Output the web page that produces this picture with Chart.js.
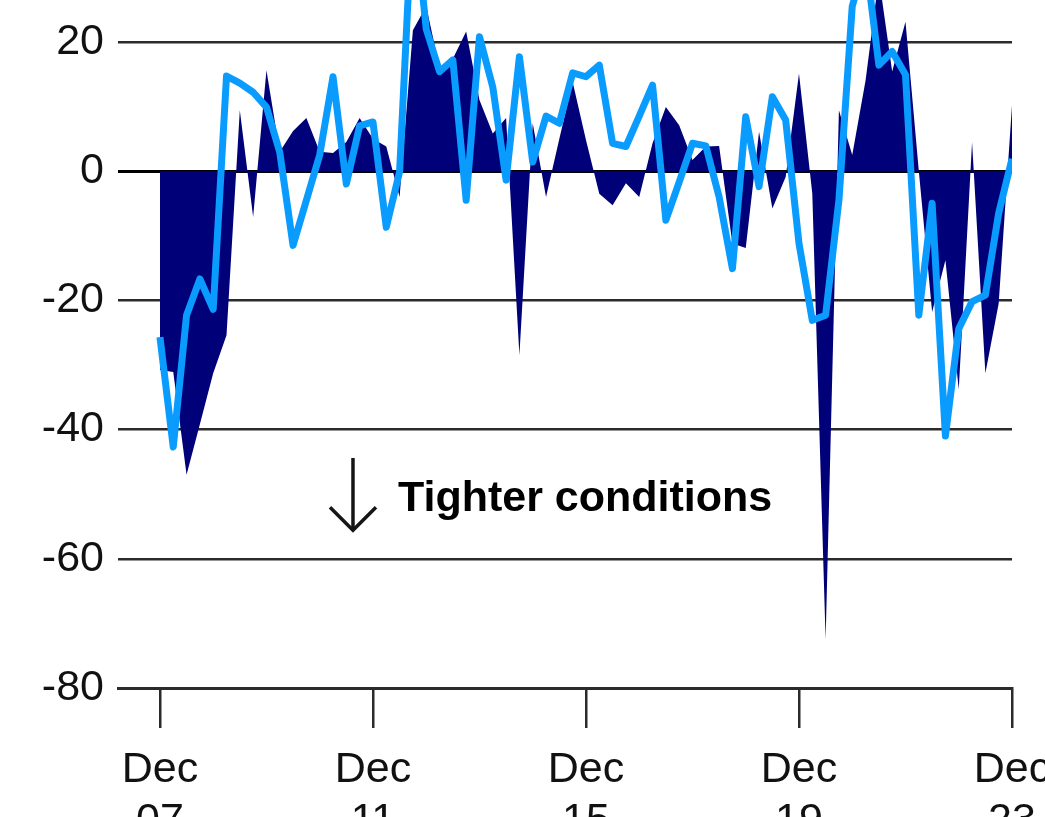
<!DOCTYPE html>
<html>
<head>
<meta charset="utf-8">
<title>Lending conditions</title>
<script src="https://cdn.jsdelivr.net/npm/chart.js@4.4.1/dist/chart.umd.min.js"></script>
<style>
  html, body { margin: 0; padding: 0; background: #ffffff; overflow: hidden; width: 1045px; height: 817px; }
  #wrap { position: absolute; left: 0; top: -212px; width: 1072px; height: 1030px; }
  canvas { display: block; }
</style>
</head>
<body>
<div id="wrap"><canvas id="chart" width="1072" height="1030"></canvas></div>
<script>
// Quarterly observations, Dec 2007 to Dec 2023
const quarters = [];
for (let yr = 2007; yr <= 2023; yr++) {
  for (const m of ['Mar', 'Jun', 'Sep', 'Dec']) {
    const label = m + ' ' + String(yr).slice(2);
    if (yr === 2007 && m !== 'Dec') continue;
    quarters.push(label);
  }
}

// Net balance (filled area)
const areaValues = [
  -30.8, -31.1, -47.0, -39.2, -31.3, -25.4, 9.4, -7.1, 15.6, 3.0,
  6.2, 8.2, 3.0, 2.8, 4.5, 8.2, 5.0, 3.8, -4.0, 21.8,
  25.5, 16.0, 17.4, 21.6, 11.0, 5.8, 8.2, -28.5, 7.4, -4.0,
  5.0, 13.8, 4.8, -3.5, -5.3, -1.9, -4.0, 4.3, 9.9, 7.1,
  1.7, 3.8, 3.9, -11.2, -11.9, 6.1, -5.8, -0.9, 15.1, -3.5,
  -72.5, 9.4, 2.5, 14.0, 30.0, 15.4, 23.1, 0.0, -21.8, -13.8,
  -33.8, 4.5, -31.3, -20.5, 10.2
];

// Survey balance (line)
const lineValues = [
  -25.7, -42.7, -22.3, -16.7, -21.4, 14.7, 13.6, 12.2, 9.9, 2.9,
  -11.5, -4.5, 2.5, 14.6, -2.0, 7.0, 7.6, -8.7, -0.1, 42.0,
  22.0, 15.4, 17.2, -4.5, 20.8, 13.0, -1.4, 17.7, 1.4, 8.5,
  7.4, 15.2, 14.6, 16.4, 4.3, 3.8, 8.5, 13.3, -7.6, -1.7,
  4.3, 3.9, -4.0, -15.1, 8.4, -2.4, 11.5, 7.9, -11.2, -23.1,
  -22.3, -4.5, 25.5, 33.0, 16.4, 18.5, 14.9, -22.3, -5.0, -41.0,
  -24.4, -20.2, -19.2, -6.5, 1.9
];

const xTickLabels = ['Dec 07', 'Dec 11', 'Dec 15', 'Dec 19', 'Dec 23'];
const yTickValues = [-80, -60, -40, -20, 0, 20, 40];
const noteText = 'Tighter conditions';

const toPoints = vals => vals.map((v, i) => ({ x: i, y: v }));
const xTickIndex = xTickLabels.map(l => quarters.indexOf(l));

const FONT = '"Liberation Sans", Arial, sans-serif';

// Down arrow with caption, anchored in data space
const notePlugin = {
  id: 'tighterNote',
  afterDatasetsDraw(chart) {
    const { ctx, scales: { x, y } } = chart;
    const ax = x.getPixelForValue(14.5);
    const top = y.getPixelForValue(-44.4);
    const bottom = y.getPixelForValue(-55.6);
    ctx.save();
    ctx.strokeStyle = '#151515';
    ctx.lineWidth = 3.5;
    ctx.lineCap = 'butt';
    ctx.lineJoin = 'miter';
    ctx.beginPath();
    ctx.moveTo(ax, top);
    ctx.lineTo(ax, bottom - 1);
    ctx.stroke();
    ctx.beginPath();
    ctx.moveTo(ax - 23, bottom - 23);
    ctx.lineTo(ax, bottom);
    ctx.lineTo(ax + 23, bottom - 23);
    ctx.stroke();
    ctx.fillStyle = '#000000';
    ctx.font = 'bold 43px ' + FONT;
    ctx.textBaseline = 'alphabetic';
    ctx.textAlign = 'left';
    ctx.fillText(noteText, ax + 45, y.getPixelForValue(-52.6));
    ctx.restore();
  }
};

new Chart(document.getElementById('chart'), {
  type: 'line',
  data: {
    datasets: [
      {
        label: 'Survey balance',
        data: toPoints(lineValues),
        borderColor: '#0a9bff',
        borderWidth: 7,
        borderJoinStyle: 'round',
        borderCapStyle: 'butt',
        pointRadius: 0,
        tension: 0,
        fill: false,
        order: 1
      },
      {
        label: 'Net balance',
        data: toPoints(areaValues),
        borderWidth: 0,
        borderColor: 'rgba(0,0,0,0)',
        backgroundColor: '#000078',
        pointRadius: 0,
        tension: 0,
        fill: 'origin',
        order: 2
      }
    ]
  },
  options: {
    responsive: false,
    devicePixelRatio: 1,
    animation: false,
    layout: { padding: { top: 60, right: 60, left: 0, bottom: 0 } },
    plugins: {
      legend: { display: false },
      tooltip: { enabled: false }
    },
    scales: {
      x: {
        type: 'linear',
        min: -3.15,
        max: quarters.length - 1,
        afterFit(scale) { scale.height = 130; },
        afterBuildTicks(scale) { scale.ticks = xTickIndex.map(v => ({ value: v })); },
        ticks: {
          autoSkip: false,
          maxRotation: 0,
          padding: 16,
          color: '#111111',
          font: { family: FONT, size: 43, lineHeight: 1.2 },
          callback(value) {
            const label = quarters[value];
            return label ? label.split(' ') : '';
          }
        },
        grid: {
          drawOnChartArea: false,
          drawTicks: true,
          tickLength: 40,
          color: '#2b2b2b',
          lineWidth: 2.5
        },
        border: { display: true, color: '#2b2b2b', width: 3 }
      },
      y: {
        min: -80,
        max: 50,
        afterFit(scale) { scale.width = 118; },
        afterBuildTicks(scale) { scale.ticks = yTickValues.map(v => ({ value: v })); },
        ticks: {
          padding: 14,
          color: '#111111',
          font: { family: FONT, size: 43 }
        },
        grid: {
          drawTicks: false,
          color: ctx => (ctx.tick && ctx.tick.value === 0 ? '#000000' : '#2b2b2b'),
          lineWidth: ctx => (ctx.tick && ctx.tick.value === 0 ? 3 : 2.5)
        },
        border: { display: false }
      }
    }
  },
  plugins: [notePlugin]
});
</script>
</body>
</html>
